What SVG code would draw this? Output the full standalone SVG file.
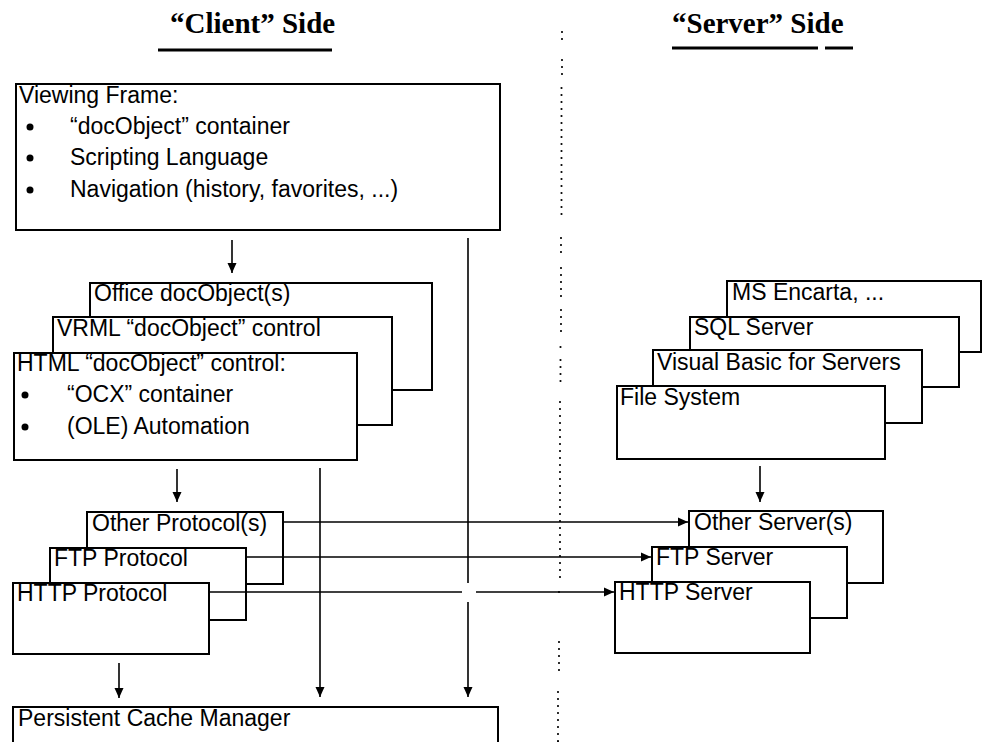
<svg xmlns="http://www.w3.org/2000/svg" width="983" height="742" viewBox="0 0 983 742">
<defs>
<style>
.box{fill:#fff;stroke:#000;stroke-width:2}
.t{font-family:"Liberation Sans",Arial,sans-serif;font-size:23px;fill:#000}
.h{font-family:"Liberation Serif","Times New Roman",serif;font-size:29px;font-weight:bold;fill:#000}
.ln{stroke:#000;stroke-width:1.6;fill:none}
.ul{stroke:#000;stroke-width:3}
.dot{stroke:#000;stroke-width:2.2;stroke-linecap:round;stroke-dasharray:0 7;fill:none}
</style>
<marker id="ah" markerUnits="userSpaceOnUse" markerWidth="10" markerHeight="10" refX="10" refY="5" orient="auto">
<path d="M0,0.5 L10,5 L0,9.5 z" fill="#000"/>
</marker>
</defs>
<rect width="983" height="742" fill="#fff"/>

<g id="headers">
<text class="h" x="170" y="33">“Client” Side</text>
<line class="ul" x1="158" y1="50" x2="332" y2="50"/>
<text class="h" x="672" y="33">“Server” Side</text>
<line class="ul" x1="672" y1="48" x2="818" y2="48"/>
<line class="ul" x1="825" y1="48" x2="853" y2="48"/>
</g>

<g id="divider">
<path class="dot" d="M562,32 V45 M562,60 V76 M561.5,88 V220 M561,238 V255 M561,268 V297 M561,310 V333 M560.5,347 V347.5 M560.5,360 V388 M560,402 V580 M559,592 V592.5 M559,642 V672 M558,692 V742"/>
</g>

<g id="viewing-frame">
<rect class="box" x="16" y="84" width="484" height="146"/>
<text class="t" x="19" y="103">Viewing Frame:</text>
<circle cx="30" cy="127" r="3.5"/>
<text class="t" x="70" y="134">“docObject” container</text>
<circle cx="30" cy="158" r="3.5"/>
<text class="t" x="70" y="165">Scripting Language</text>
<circle cx="30" cy="190" r="3.5"/>
<text class="t" x="70" y="197">Navigation (history, favorites, ...)</text>
</g>

<g id="office-docobject">
<rect class="box" x="90" y="283" width="342" height="107"/>
<text class="t" x="94" y="301">Office docObject(s)</text>
</g>
<g id="vrml-docobject">
<rect class="box" x="53" y="317" width="339" height="108"/>
<text class="t" x="57" y="336">VRML “docObject” control</text>
</g>
<g id="html-docobject">
<rect class="box" x="14" y="353" width="343" height="107"/>
<text class="t" x="17" y="371">HTML “docObject” control:</text>
<circle cx="25" cy="395" r="3.5"/>
<text class="t" x="67" y="402">“OCX” container</text>
<circle cx="25" cy="427" r="3.5"/>
<text class="t" x="67" y="434">(OLE) Automation</text>
</g>

<g id="other-protocol">
<rect class="box" x="87" y="512" width="196" height="72"/>
<text class="t" x="92" y="531">Other Protocol(s)</text>
</g>
<g id="ftp-protocol">
<rect class="box" x="50" y="548" width="196" height="72"/>
<text class="t" x="54" y="566">FTP Protocol</text>
</g>
<g id="http-protocol">
<rect class="box" x="13" y="583" width="196" height="71"/>
<text class="t" x="17" y="601">HTTP Protocol</text>
</g>

<g id="cache-manager">
<rect class="box" x="13" y="707" width="485" height="45"/>
<text class="t" x="18" y="726">Persistent Cache Manager</text>
</g>

<g id="ms-encarta">
<rect class="box" x="727" y="281" width="254" height="71"/>
<text class="t" x="732" y="300">MS Encarta, ...</text>
</g>
<g id="sql-server">
<rect class="box" x="690" y="317" width="269" height="70"/>
<text class="t" x="694" y="335">SQL Server</text>
</g>
<g id="vb-servers">
<rect class="box" x="653" y="350" width="269" height="73"/>
<text class="t" x="657" y="370">Visual Basic for Servers</text>
</g>
<g id="file-system">
<rect class="box" x="617" y="386" width="268" height="73"/>
<text class="t" x="620" y="405">File System</text>
</g>

<g id="other-server">
<rect class="box" x="689" y="511" width="194" height="72"/>
<text class="t" x="694" y="530">Other Server(s)</text>
</g>
<g id="ftp-server">
<rect class="box" x="652" y="547" width="195" height="71"/>
<text class="t" x="656" y="565">FTP Server</text>
</g>
<g id="http-server">
<rect class="box" x="615" y="582" width="195" height="71"/>
<text class="t" x="619" y="600">HTTP Server</text>
</g>

<g id="connectors">
<line class="ln" x1="232" y1="240" x2="232" y2="273" marker-end="url(#ah)"/>
<line class="ln" x1="468" y1="238" x2="468" y2="583"/>
<line class="ln" x1="468" y1="602" x2="468" y2="697" marker-end="url(#ah)"/>
<line class="ln" x1="177" y1="469" x2="177" y2="502" marker-end="url(#ah)"/>
<line class="ln" x1="320" y1="468" x2="320" y2="697" marker-end="url(#ah)"/>
<line class="ln" x1="119" y1="663" x2="119" y2="698" marker-end="url(#ah)"/>
<line class="ln" x1="760" y1="466" x2="760" y2="502" marker-end="url(#ah)"/>
<line class="ln" x1="283" y1="522" x2="688" y2="522" marker-end="url(#ah)"/>
<line class="ln" x1="246" y1="557" x2="651" y2="557" marker-end="url(#ah)"/>
<line class="ln" x1="209" y1="592" x2="462" y2="592"/>
<line class="ln" x1="476" y1="592" x2="614" y2="592" marker-end="url(#ah)"/>
</g>
</svg>
